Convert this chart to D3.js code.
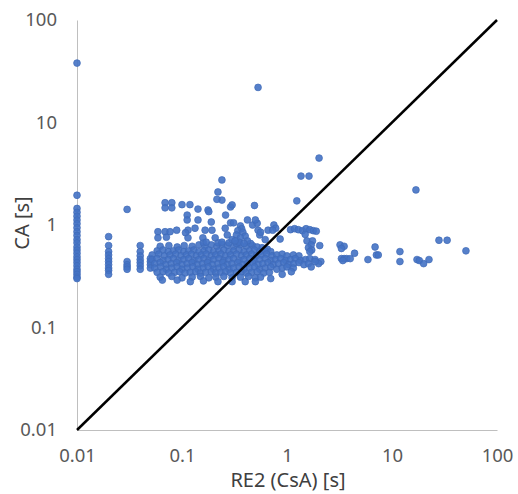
<!DOCTYPE html>
<html><head><meta charset="utf-8">
<script src="https://cdn.jsdelivr.net/npm/d3@7"></script>
<style>body{margin:0;background:#fff}svg{display:block}</style>
</head><body>
<svg id="c" width="518" height="494"></svg>
<script>
const xTicks=[0.01,0.1,1,10,100];
const yTicks=[0.01,0.1,1,10,100];
const xTitle="RE2 (CsA) [s]";
const yTitle="CA [s]";

const leftColumns=[[0.01,38],[0.01,1.95],[0.01,1.45],[0.01,1.33],[0.01,1.22],[0.01,1.12],[0.01,1.03],[0.01,0.94],[0.01,0.86],[0.01,0.79],[0.01,0.72],[0.01,0.67],[0.01,0.61],[0.01,0.57],[0.01,0.53],[0.01,0.49],[0.01,0.46],[0.01,0.43],[0.01,0.40],[0.01,0.37],[0.01,0.35],[0.01,0.33],[0.01,0.31],[0.01,0.30],
[0.02,0.77],[0.02,0.63],[0.02,0.55],[0.02,0.51],[0.02,0.47],[0.02,0.44],[0.02,0.41],[0.02,0.38],[0.02,0.36],[0.02,0.33],
[0.03,1.42],[0.03,0.44],[0.03,0.41],[0.03,0.39],[0.03,0.37],
[0.04,0.63],[0.04,0.55],[0.04,0.50],[0.04,0.46],[0.04,0.43],[0.04,0.40],[0.04,0.37],
[0.05,0.47],[0.05,0.44],[0.05,0.41],[0.05,0.38]];

const bandPoints=[
[0.062,0.62],[0.075,0.63],[0.09,0.61],[0.105,0.63],[0.125,0.62],[0.145,0.64],[0.165,0.62],[0.19,0.64],[0.215,0.62],[0.24,0.65],[0.27,0.63],[0.31,0.62],[0.36,0.64],[0.41,0.62],[0.47,0.63],[0.52,0.61],
[0.16,0.67],[0.22,0.67],[0.28,0.67],[0.33,0.66],[0.45,0.66],[0.58,0.60],[0.65,0.58],
[0.058,0.56],[0.066,0.57],[0.074,0.55],[0.083,0.56],[0.093,0.57],[0.104,0.55],[0.116,0.56],[0.13,0.57],[0.145,0.55],[0.162,0.56],[0.18,0.57],[0.2,0.55],[0.225,0.56],[0.25,0.57],[0.28,0.55],[0.31,0.56],[0.35,0.57],[0.39,0.55],[0.44,0.56],[0.49,0.57],[0.55,0.55],[0.62,0.56],[0.7,0.55],
[0.052,0.51],[0.06,0.52],[0.068,0.50],[0.077,0.51],[0.087,0.52],[0.098,0.50],[0.11,0.51],[0.123,0.52],[0.137,0.50],[0.153,0.51],[0.17,0.52],[0.19,0.50],[0.21,0.51],[0.235,0.52],[0.26,0.50],[0.29,0.51],[0.33,0.52],[0.37,0.50],[0.41,0.51],[0.46,0.52],[0.51,0.50],[0.57,0.51],[0.64,0.52],[0.72,0.50],[0.8,0.51],[0.9,0.52],[1.0,0.50],[1.15,0.51],[1.3,0.50],
[0.052,0.46],[0.058,0.47],[0.066,0.45],[0.074,0.46],[0.083,0.47],[0.093,0.45],[0.104,0.46],[0.116,0.47],[0.13,0.45],[0.145,0.46],[0.162,0.47],[0.18,0.45],[0.2,0.46],[0.225,0.47],[0.25,0.45],[0.28,0.46],[0.31,0.47],[0.35,0.45],[0.39,0.46],[0.44,0.47],[0.49,0.45],[0.55,0.46],[0.62,0.47],[0.7,0.45],[0.78,0.46],[0.87,0.47],[0.97,0.45],[1.08,0.46],[1.2,0.47],[1.35,0.45],[1.5,0.46],[1.65,0.47],[1.85,0.46],
[0.055,0.42],[0.062,0.43],[0.07,0.41],[0.079,0.42],[0.089,0.43],[0.1,0.41],[0.112,0.42],[0.125,0.43],[0.14,0.41],[0.157,0.42],[0.175,0.43],[0.195,0.41],[0.22,0.42],[0.245,0.43],[0.27,0.41],[0.3,0.42],[0.34,0.43],[0.38,0.41],[0.42,0.42],[0.47,0.43],[0.53,0.41],[0.59,0.42],[0.66,0.43],[0.74,0.41],[0.83,0.42],[0.93,0.43],[1.04,0.41],[1.16,0.42],[1.3,0.43],[1.45,0.41],[1.6,0.42],
[0.055,0.38],[0.063,0.39],[0.071,0.37],[0.08,0.38],[0.09,0.39],[0.1,0.37],[0.113,0.38],[0.127,0.39],[0.142,0.37],[0.16,0.38],[0.178,0.39],[0.2,0.37],[0.225,0.38],[0.25,0.39],[0.28,0.37],[0.31,0.38],[0.35,0.39],[0.39,0.37],[0.44,0.38],[0.49,0.39],[0.55,0.37],[0.62,0.38],[0.7,0.39],[0.8,0.37],[0.9,0.38],[1.0,0.39],[1.15,0.38],
[0.058,0.345],[0.066,0.35],[0.075,0.34],[0.085,0.345],[0.095,0.35],[0.107,0.34],[0.12,0.345],[0.135,0.35],[0.15,0.34],[0.168,0.345],[0.19,0.35],[0.21,0.34],[0.235,0.345],[0.26,0.35],[0.29,0.34],[0.33,0.345],[0.37,0.35],[0.41,0.34],[0.46,0.345],[0.52,0.35],[0.6,0.34],[0.68,0.345],
[0.062,0.31],[0.08,0.315],[0.1,0.305],[0.125,0.31],[0.15,0.315],[0.18,0.305],[0.21,0.31],[0.25,0.315],[0.3,0.305],[0.36,0.31],[0.43,0.315],[0.5,0.305],[0.56,0.31],
[0.065,0.29],[0.09,0.29],[0.12,0.28],[0.16,0.285],[0.22,0.28],[0.3,0.28],[0.4,0.28],[0.5,0.28],[0.7,0.30],[0.9,0.33],[1.1,0.35],[1.7,0.39]];

const upperScatter=[[0.069,1.65],[0.080,1.65],[0.069,1.47],[0.080,1.47],[0.10,1.58],[0.119,1.58],[0.112,1.25],[0.112,1.12],[0.142,1.43],[0.177,1.40],[0.18,1.35],[0.24,1.75],[0.22,2.1],[0.24,2.75],[0.215,1.78],[0.29,1.5],[0.30,1.57],[0.142,1.12],[0.19,1.07],[0.26,1.25],
[0.059,0.86],[0.069,0.86],[0.077,0.86],[0.089,0.89],[0.059,0.75],[0.071,0.76],[0.114,0.89],[0.133,0.93],[0.166,0.89],[0.193,0.89],[0.258,0.93],[0.108,0.84],
[0.114,0.75],[0.158,0.75],[0.17,0.68],[0.207,0.75],[0.24,0.68],[0.27,0.80],
[0.29,1.05],[0.31,1.05],[0.36,0.98],[0.37,0.92],[0.34,0.88],[0.38,0.85],[0.33,0.80],[0.40,0.78],[0.36,0.75],[0.30,0.72],[0.42,0.70],[0.35,0.68],[0.39,0.66],[0.32,0.70],
[0.47,1.0],[0.52,1.04],[0.42,1.12],[0.50,1.12],[0.49,1.55],[0.53,0.89],[0.55,0.80],[0.56,0.85],[0.66,0.89],[0.75,1.0],[0.78,0.93],[0.73,0.89],[0.86,0.73],[0.62,0.72]];

const rightScatter=[[1.08,0.90],[1.18,0.92],[1.28,0.90],[1.40,0.88],[1.52,0.92],[1.65,0.90],[1.78,0.88],[1.90,0.87],[1.49,0.81],
[1.55,0.70],[1.75,0.70],[1.70,0.64],[1.60,0.60],[1.72,0.57],[1.65,0.55],[2.05,0.63],
[3.2,0.64],[3.5,0.62],[3.3,0.59],[4.4,0.53],[6.9,0.61],[7.1,0.51],[7.4,0.51],[5.9,0.46],[11.9,0.55],[11.9,0.44],[17.3,0.46],[18.2,0.45],[20,0.42],[22.5,0.46],[28,0.71],[33.5,0.71],[50.6,0.56],
[3.3,0.47],[3.5,0.47],[3.7,0.47],[4.0,0.47],[3.4,0.45],
[2.1,0.44],[2.0,0.42],[1.85,0.44],[1.24,1.72]];

const outliers=[[0.53,22],[2.02,4.5],[1.36,3.0],[1.62,3.0],[16.9,2.2]];

const identityLine=[[0.01,0.01],[100,100]];

const svg=d3.select("#c");
const x=d3.scaleLog().domain([0.01,100]).range([77,497]);
const y=d3.scaleLog().domain([0.01,100]).range([430,20]);
const font="'Noto Sans', 'Open Sans', sans-serif";

const gx=svg.append("g").attr("transform","translate(0,430)")
  .call(d3.axisBottom(x).tickValues(xTicks).tickFormat(d=>String(d)).tickSize(0).tickSizeOuter(0).tickPadding(19));
const gy=svg.append("g").attr("transform","translate(77,0)")
  .call(d3.axisLeft(y).tickValues(yTicks).tickFormat(d=>String(d)).tickSize(0).tickSizeOuter(0).tickPadding(20));
[gx,gy].forEach(g=>{
  g.select(".domain").attr("stroke","#bfbfbf").attr("stroke-width",1);
  g.selectAll("text").attr("fill","#595959").style("font-family",font).style("font-size","18.5px");
});

const all=[...leftColumns,...bandPoints,...upperScatter,...rightScatter,...outliers];
svg.append("g").selectAll("circle").data(all).join("circle")
  .attr("cx",d=>x(d[0])).attr("cy",d=>y(d[1])).attr("r",3.4)
  .attr("fill","#4472C4").attr("stroke","#3f6ab8").attr("stroke-width",0.7).attr("fill-opacity",0.9);

svg.append("path").datum(identityLine)
  .attr("d",d3.line().x(d=>x(d[0])).y(d=>y(d[1])))
  .attr("stroke","#000").attr("stroke-width",2.5).attr("fill","none");

svg.append("text").attr("x",288).attr("y",487).attr("text-anchor","middle")
  .attr("fill","#404040").style("font-family",font).style("font-size","20px").text(xTitle);
svg.append("text").attr("transform","translate(29,223) rotate(-90)").attr("text-anchor","middle")
  .attr("fill","#404040").style("font-family",font).style("font-size","20px").text(yTitle);
</script>
</body></html>
